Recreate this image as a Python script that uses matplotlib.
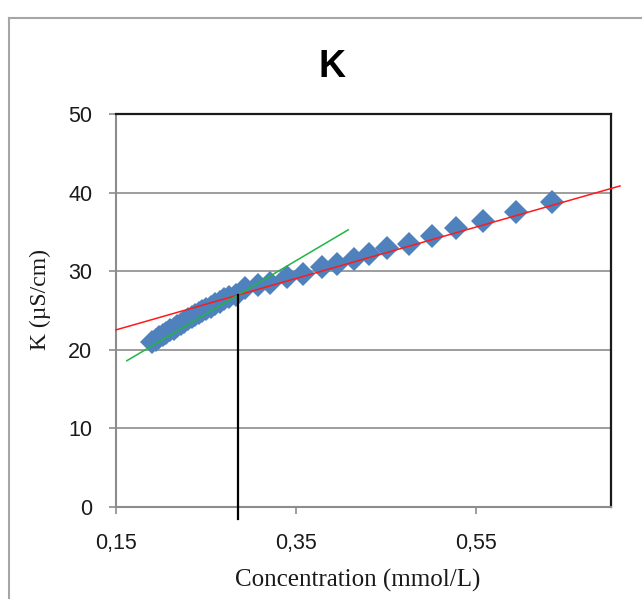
import matplotlib
matplotlib.use("Agg")
import matplotlib.pyplot as plt
from matplotlib.lines import Line2D
import numpy as np

# Measured conductivity K (µS/cm) against concentration (mmol/L)
concentration = [0.190, 0.194, 0.198, 0.202, 0.206, 0.210, 0.214, 0.218, 0.222,
                 0.226, 0.230, 0.234, 0.238, 0.242, 0.246, 0.250, 0.255, 0.260,
                 0.265, 0.270, 0.276, 0.283, 0.293, 0.308, 0.321, 0.340, 0.358,
                 0.379, 0.396, 0.414, 0.431, 0.451, 0.476, 0.501, 0.528, 0.558,
                 0.594, 0.634]
conductivity = [21.0, 21.3, 21.6, 21.9, 22.2, 22.5, 22.7, 23.0, 23.3,
                23.6, 23.9, 24.2, 24.4, 24.7, 25.0, 25.2, 25.5, 25.8,
                26.1, 26.4, 26.7, 27.0, 27.9, 28.2, 28.5, 29.3, 29.6,
                30.5, 30.9, 31.5, 32.2, 33.0, 33.5, 34.5, 35.5, 36.4,
                37.5, 38.8]

# Linear trendlines: (intercept, slope, x-range)
high_fit = (17.63, 32.7, (0.15, 0.71))     # upper concentration range
low_fit = (7.64, 67.7, (0.162, 0.408))     # lower concentration range

x_ticks = [0.15, 0.35, 0.55]
x_tick_labels = ["0,15", "0,35", "0,55"]
y_ticks = [0, 10, 20, 30, 40, 50]

W, H = 642, 599
fig = plt.figure(figsize=(W / 100, H / 100), dpi=100)
fig.patch.set_facecolor("white")

# Chart area border
fig.add_artist(Line2D([9 / W, 9 / W], [0, 1 - 18 / H], transform=fig.transFigure,
                      color="#a6a6a6", lw=1.5))
fig.add_artist(Line2D([9 / W, 1], [1 - 18 / H, 1 - 18 / H], transform=fig.transFigure,
                      color="#a6a6a6", lw=1.5))

left, right, top, bottom = 116, 611, 114, 507
ax = fig.add_axes([left / W, 1 - bottom / H, (right - left) / W, (bottom - top) / H])

ax.set_xlim(0.15, 0.70)
ax.set_ylim(0, 50)

# Gridlines
for yv in y_ticks[1:-1]:
    ax.axhline(yv, color="#8c8c8c", lw=1.2, zorder=1)

# Data points
ax.plot(concentration, conductivity, linestyle="none", marker="D", markersize=12,
        color="#4f81bd", markeredgewidth=0, zorder=3)

# Trendlines
a1, b1, (x1a, x1b) = high_fit
xs1 = np.array([x1a, x1b])
ax.plot(xs1, a1 + b1 * xs1, color="#ff1a1a", lw=1.1, zorder=4, clip_on=False)

a2, b2, (x2a, x2b) = low_fit
xs2 = np.array([x2a, x2b])
ax.plot(xs2, a2 + b2 * xs2, color="#22b444", lw=1.1, zorder=4)

# Drop line at the intersection of the two trendlines
xc = (a1 - a2) / (b2 - b1)
yc = a1 + b1 * xc
ax.plot([xc, xc], [-1.5, yc], color="black", lw=1.6, zorder=5, clip_on=False)

# Spines
for side in ("left", "bottom"):
    ax.spines[side].set_color("#8c8c8c")
    ax.spines[side].set_linewidth(1.5)
for side in ("top", "right"):
    ax.spines[side].set_color("#1a1a1a")
    ax.spines[side].set_linewidth(1.6)

ax.set_xticks(x_ticks)
ax.set_xticklabels(x_tick_labels)
ax.set_yticks(y_ticks)
ax.tick_params(axis="both", direction="out", length=5, width=1.2, color="#8c8c8c",
               labelsize=15.5, labelcolor="#1a1a1a")
ax.tick_params(axis="x", pad=14)
ax.tick_params(axis="y", pad=12)
for lbl in ax.get_xticklabels() + ax.get_yticklabels():
    lbl.set_fontfamily("Liberation Sans")

fig.text(332 / W, 1 - 67 / H, "K", ha="center", va="center", fontsize=27,
         fontweight="bold", fontfamily="Liberation Sans", color="black")
fig.text(358 / W, 1 - 580 / H, "Concentration (mmol/L)", ha="center", va="center",
         fontsize=18, fontfamily="Liberation Serif", color="#1a1a1a")
fig.text(40 / W, 1 - 299 / H, "K (µS/cm)", ha="center", va="center", rotation=90,
         fontsize=17, fontfamily="Liberation Serif", color="#1a1a1a")

fig.savefig("out.png", dpi=100)
